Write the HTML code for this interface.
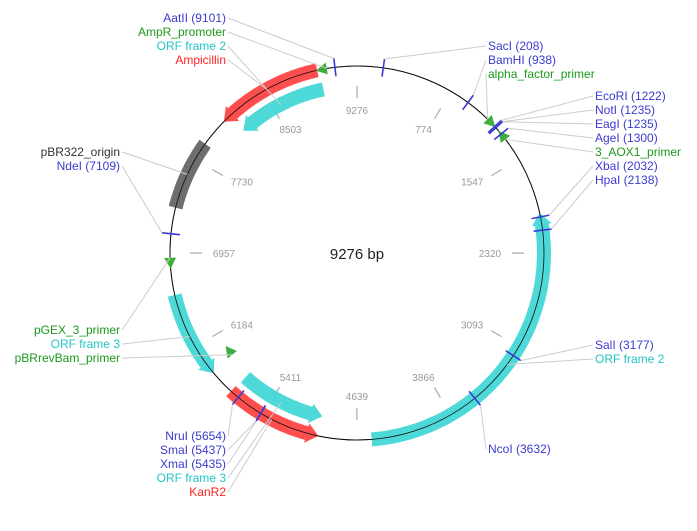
<!DOCTYPE html>
<html><head><meta charset="utf-8"><style>
body{margin:0;background:#fff;}
svg{display:block;font-family:"Liberation Sans",Arial,sans-serif;}
</style></head><body>
<svg id="map" width="697" height="531" viewBox="0 0 697 531" xmlns="http://www.w3.org/2000/svg">
<circle cx="357" cy="253" r="187" fill="none" stroke="#111" stroke-width="1"/>
<text x="357" y="259" font-size="15" text-anchor="middle" fill="#222">9276 bp</text>
<g id="g"></g>
</svg>
<script>
const total = 9276;
const tickPositions = [0, 774, 1547, 2320, 3093, 3866, 4639, 5411, 6184, 6957, 7730, 8503];
const tickLabels = ["9276","774","1547","2320","3093","3866","4639","5411","6184","6957","7730","8503"];
const featNames = ["Ampicillin","ORF frame 2","pBR322_origin","ORF frame 3","ORF frame 3 b","KanR2","ORF frame 2 b"];
const featStart = [8106, 8170, 7318, 5926, 4947, 4945, 2000];
const featEnd =   [8959, 8977, 7877, 6622, 5718, 5730, 4522];
const featRing =  [0, 1, 0, 0, 1, 0, 0];
const featArrow = [true, true, false, true, true, true, true];
const featArrowAtEnd = [false, false, false, false, false, false, false];
const featColor = ["#ff4444","#44d7d7","#666666","#44d7d7","#44d7d7","#ff4444","#44d7d7"];
const siteNames = ["AatII","SacI","BamHI","EcoRI","NotI","EagI","AgeI","XbaI","HpaI","SalI","NcoI","NruI","SmaI","XmaI","NdeI"];
const sitePos = [9101, 208, 938, 1222, 1235, 1235, 1300, 2032, 2138, 3177, 3632, 5654, 5437, 5435, 7109];
const primerNames = ["AmpR_promoter","alpha_factor_primer","3_AOX1_primer","pGEX_3_primer","pBRrevBam_primer"];
const primerPos = [9036, 1141, 1355, 6919, 5947];
const primerDir = [-1, 1, -1, -1, 1];
const primerRing = [0, 0, 0, 0, 1];

const cx=357, cy=253, R=187, RI=167;
const g=document.getElementById('g');
const NS="http://www.w3.org/2000/svg";
function ang(p){return p/total*2*Math.PI;}
function pt(p,r){const a=ang(p);return [cx+r*Math.sin(a), cy-r*Math.cos(a)];}
function mk(tag,attrs){const e=document.createElementNS(NS,tag);for(const k in attrs)e.setAttribute(k,attrs[k]);g.appendChild(e);return e;}

tickPositions.forEach((p,i)=>{
  const a=pt(p,155),b=pt(p,167);
  const an=ang(p);
  const tx0=cx+133*Math.sin(an), ty0=cy-143*Math.cos(an);
  const l=mk('line',{x1:a[0],y1:a[1],x2:b[0],y2:b[1],stroke:'#aaa','stroke-width':1.2});
  
  
  const tx=mk('text',{x:tx0,y:ty0+4,'font-size':10,'text-anchor':'middle',fill:'#999'});
  tx.textContent=tickLabels[i];
  
  
});

const w=7, headPx=12, headW=10;
function featPath(s,e,r,arrowAtStart,arrowAtEnd){
  const hd=headPx/(2*Math.PI*r)*total;
  let s2=arrowAtStart?s+hd:s, e2=arrowAtEnd?e-hd:e;
  const N=40, pts=[];
  for(let i=0;i<=N;i++){pts.push(pt(s2+(e2-s2)*i/N,r+w));}
  if(arrowAtEnd){pts.push(pt(e2,r+headW));pts.push(pt(e,r));pts.push(pt(e2,r-headW));}
  for(let i=N;i>=0;i--){pts.push(pt(s2+(e2-s2)*i/N,r-w));}
  if(arrowAtStart){pts.push(pt(s2,r-headW));pts.push(pt(s,r));pts.push(pt(s2,r+headW));}
  return 'M'+pts.map(q=>q[0].toFixed(1)+','+q[1].toFixed(1)).join('L')+'Z';
}
const featCenter=[];
featNames.forEach((n,i)=>{
  const r=featRing[i]?RI:R;
  const el=mk('path',{d:featPath(featStart[i],featEnd[i],r,featArrow[i]&&!featArrowAtEnd[i],featArrow[i]&&featArrowAtEnd[i]),fill:featColor[i],opacity:0.95});
  
  
  featCenter.push(pt((featStart[i]+featEnd[i])/2,r));
});
const bb=mk('circle',{cx:cx,cy:cy,r:R,fill:'none',stroke:'#111','stroke-width':0.8});



const primerAnchor=[];
primerNames.forEach((n,i)=>{
  const r=primerRing[i]?RI-6:R;
  const d=primerDir[i]*(11/(2*Math.PI*r))*total;
  const tip=pt(primerPos[i]+d,r), b1=pt(primerPos[i],r+6), b2=pt(primerPos[i],r-6);
  const el=mk('polygon',{points:[tip,b1,b2].map(q=>q.join(',')).join(' '),fill:'#3fae3f'});
  
  
  primerAnchor.push(pt(primerPos[i],r));
});

const siteAnchor=[];
sitePos.forEach((p,i)=>{
  const a=pt(p,R-9),b=pt(p,R+9);
  const el=mk('line',{x1:a[0],y1:a[1],x2:b[0],y2:b[1],stroke:'#3a3ad6','stroke-width':1.6});
  
  
  siteAnchor.push(pt(p,R+9));
});

const B='#3b3bd0',G='#1a9a1a',C='#22c4c4',Rd='#ff2222',K='#333';
const labels=[
 ["AatII (9101)",226,22,'end',B,siteAnchor[0]],
 ["AmpR_promoter",226,36,'end',G,primerAnchor[0]],
 ["ORF frame 2",226,50,'end',C,featCenter[1]],
 ["Ampicillin",226,64,'end',Rd,featCenter[0]],
 ["SacI (208)",488,50,'start',B,siteAnchor[1]],
 ["BamHI (938)",488,64,'start',B,siteAnchor[2]],
 ["alpha_factor_primer",488,78,'start',G,primerAnchor[1]],
 ["EcoRI (1222)",595,100,'start',B,siteAnchor[3]],
 ["NotI (1235)",595,114,'start',B,siteAnchor[4]],
 ["EagI (1235)",595,128,'start',B,siteAnchor[5]],
 ["AgeI (1300)",595,142,'start',B,siteAnchor[6]],
 ["3_AOX1_primer",595,156,'start',G,primerAnchor[2]],
 ["XbaI (2032)",595,170,'start',B,siteAnchor[7]],
 ["HpaI (2138)",595,184,'start',B,siteAnchor[8]],
 ["pBR322_origin",120,156,'end',K,featCenter[2]],
 ["NdeI (7109)",120,170,'end',B,siteAnchor[14]],
 ["pGEX_3_primer",120,334,'end',G,primerAnchor[3]],
 ["ORF frame 3",120,348,'end',C,featCenter[3]],
 ["pBRrevBam_primer",120,362,'end',G,primerAnchor[4]],
 ["SalI (3177)",595,349,'start',B,siteAnchor[9]],
 ["ORF frame 2",595,363,'start',C,featCenter[6]],
 ["NcoI (3632)",488,453,'start',B,siteAnchor[10]],
 ["NruI (5654)",226,440,'end',B,siteAnchor[11]],
 ["SmaI (5437)",226,454,'end',B,siteAnchor[12]],
 ["XmaI (5435)",226,468,'end',B,siteAnchor[13]],
 ["ORF frame 3",226,482,'end',C,featCenter[4]],
 ["KanR2",226,496,'end',Rd,featCenter[5]]
];
labels.forEach((L,i)=>{
  const lx=L[3]==='end'?L[1]+2:L[1]-2;
  const ln=mk('line',{x1:lx,y1:L[2]-4,x2:L[5][0],y2:L[5][1],stroke:'#ccc','stroke-width':1});
  
  
  const t=mk('text',{x:L[1],y:L[2],'font-size':12,'text-anchor':L[3],fill:L[4]});
  t.textContent=L[0];
  
  
});
</script>
</body></html>
